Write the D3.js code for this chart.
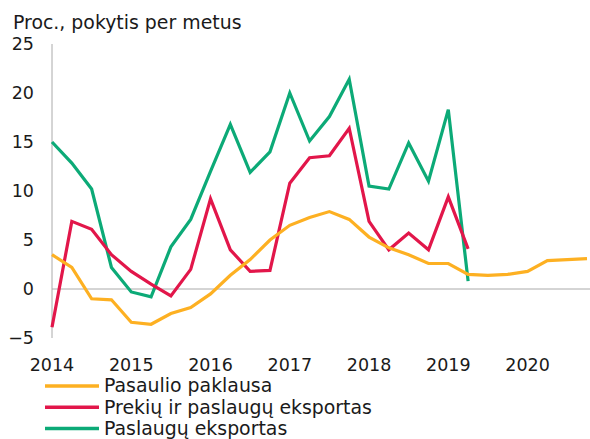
<!DOCTYPE html>
<html>
<head>
<meta charset="utf-8">
<script src="https://cdn.jsdelivr.net/npm/d3@7"></script>
<style>
  body { margin: 0; background: #fff; }
  text { font-family: "DejaVu Sans", Verdana, sans-serif; fill: #1a1a1a; }
</style>
</head>
<body>
<div id="chart"></div>
<script>
// Quarterly data, starting 2014 Q1
const startYear = 2014;
const yearTicks = [2014, 2015, 2016, 2017, 2018, 2019, 2020];
const yTicks = [-5, 0, 5, 10, 15, 20, 25];

const pasaulioPaklausa = [3.5, 2.2, -1.0, -1.1, -3.4, -3.6, -2.5, -1.9, -0.5, 1.4, 3.0, 5.0,
    6.5, 7.3, 7.9, 7.1, 5.3, 4.2, 3.5, 2.6, 2.6, 1.5, 1.4, 1.5, 1.8, 2.9, 3.0, 3.1];
const prekiuPaslauguEksportas = [-3.9, 6.9, 6.1, 3.5, 1.8, 0.5, -0.7, 2.0, 9.2, 4.0, 1.8, 1.9,
    10.8, 13.4, 13.6, 16.4, 6.9, 4.0, 5.7, 4.0, 9.4, 4.1];
const paslauguEksportas = [15.0, 12.85, 10.2, 2.2, -0.3, -0.8, 4.3, 7.1, 12.0, 16.8, 11.9, 14.0,
    20.0, 15.1, 17.6, 21.4, 10.5, 10.2, 14.9, 11.0, 18.3, 0.8];

const series = [
    {name: "Pasaulio paklausa", values: pasaulioPaklausa, color: "#fdb022"},
    {name: "Prekių ir paslaugų eksportas", values: prekiuPaslauguEksportas, color: "#e2164a"},
    {name: "Paslaugų eksportas", values: paslauguEksportas, color: "#0caa77"}
];

const W = 590, H = 439;
let margin = {top: 44, right: 2, bottom: 101, left: 52};

let svg = d3.select("#chart")
    .append("svg")
    .attr("width", W)
    .attr("height", H);

// x: quarter index -> pixel
let x = d3.scaleLinear()
    .domain([0, 27])
    .range([margin.left, 587]);

let y = d3.scaleLinear()
    .domain([-5, 25])
    .range([H - margin.bottom, margin.top]);

// Title
svg.append("text")
    .attr("x", 13)
    .attr("y", 29)
    .style("font-size", "18.9px")
    .text("Proc., pokytis per metus");

// Y axis labels
svg.append("g")
    .selectAll("text")
    .data(yTicks)
    .enter()
    .append("text")
    .attr("x", 34)
    .attr("y", d => y(d))
    .attr("dy", "0.36em")
    .attr("text-anchor", "end")
    .style("font-size", "17.5px")
    .text(d => d < 0 ? "\u2212" + Math.abs(d) : d);

// X axis labels
svg.append("g")
    .selectAll("text")
    .data(yearTicks)
    .enter()
    .append("text")
    .attr("x", d => x((d - startYear) * 4))
    .attr("y", 371)
    .attr("text-anchor", "middle")
    .style("font-size", "17.5px")
    .text(d => d);

// Axis lines
svg.append("line")
    .attr("x1", margin.left).attr("x2", margin.left)
    .attr("y1", y(25)).attr("y2", y(-5))
    .attr("stroke", "#aaa").attr("stroke-width", 1);
svg.append("line")
    .attr("x1", margin.left).attr("x2", W)
    .attr("y1", y(0)).attr("y2", y(0))
    .attr("stroke", "#aaa").attr("stroke-width", 1);

// Lines
let line = d3.line()
    .x((d, i) => x(i))
    .y(d => y(d));

svg.selectAll(".series")
    .data(series.slice().reverse())
    .enter()
    .append("path")
    .attr("d", d => line(d.values))
    .attr("fill", "none")
    .attr("stroke", d => d.color)
    .attr("stroke-width", 3.2)
    .attr("stroke-linejoin", "miter");

// Legend
let legend = svg.append("g")
    .selectAll("g")
    .data(series)
    .enter()
    .append("g")
    .attr("transform", (d, i) => "translate(45," + (386 + i * 21.2) + ")");
legend.append("line")
    .attr("x1", 0).attr("x2", 54)
    .attr("stroke", d => d.color)
    .attr("stroke-width", 3.5);
legend.append("text")
    .attr("x", 59)
    .attr("y", 6.3)
    .style("font-size", "18.9px")
    .text(d => d.name);
</script>
</body>
</html>
